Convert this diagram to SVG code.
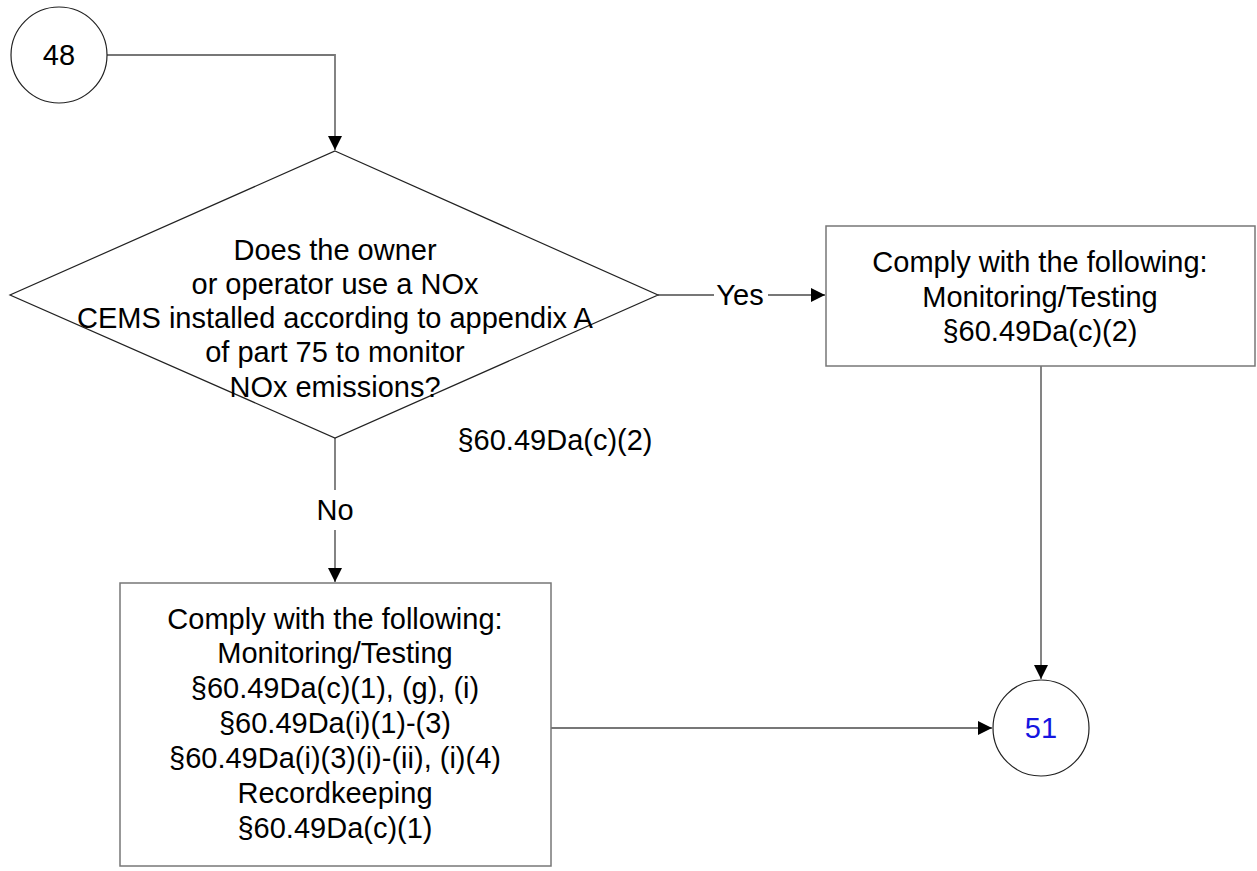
<svg xmlns="http://www.w3.org/2000/svg" width="1257" height="871" viewBox="0 0 1257 871">
<style>
text{font-family:"Liberation Sans",Arial,sans-serif;font-size:29px;fill:#000;text-anchor:middle}
.node{fill:#fff;stroke:#222;stroke-width:1.2}
.box{fill:#fff;stroke:#777;stroke-width:1.5}
.conn{fill:none;stroke:#777;stroke-width:1.8}
</style>
<defs>
<marker id="arr" viewBox="0 0 10 10" refX="10" refY="5" markerWidth="14" markerHeight="14" markerUnits="userSpaceOnUse" orient="auto">
<path d="M0,0L10,5L0,10z" fill="#000"/>
</marker>
</defs>
<rect width="1257" height="871" fill="#fff"/>
<g id="connectors">
<path class="conn" d="M107,55H335V150" marker-end="url(#arr)"/>
<path class="conn" d="M658,295H714M768,295H825" marker-end="url(#arr)"/>
<path class="conn" d="M335,438V490M335,530V582" marker-end="url(#arr)"/>
<path class="conn" d="M1041,366V679" marker-end="url(#arr)"/>
<path class="conn" d="M551,728H992" marker-end="url(#arr)"/>
<text x="740" y="305">Yes</text>
<text x="335" y="520">No</text>
</g>
<g id="n48">
<circle class="node" cx="59" cy="55" r="48"/>
<text x="59" y="65">48</text>
</g>
<g id="decision">
<path class="node" d="M335,151L658,295L335,438L10,295Z"/>
<text x="335" y="260">Does the owner</text>
<text x="335" y="294">or operator use a NOx</text>
<text x="335" y="328">CEMS installed according to appendix A</text>
<text x="335" y="362">of part 75 to monitor</text>
<text x="335" y="397">NOx emissions?</text>
</g>
<g id="citation">
<text x="555" y="450">§60.49Da(c)(2)</text>
</g>
<g id="yesbox">
<rect class="box" x="826" y="226" width="429" height="140"/>
<text x="1040" y="272">Comply with the following:</text>
<text x="1040" y="307">Monitoring/Testing</text>
<text x="1040" y="341">§60.49Da(c)(2)</text>
</g>
<g id="nobox">
<rect class="box" x="120" y="583" width="431" height="283"/>
<text x="335" y="629">Comply with the following:</text>
<text x="335" y="663">Monitoring/Testing</text>
<text x="335" y="698">§60.49Da(c)(1), (g), (i)</text>
<text x="335" y="733">§60.49Da(i)(1)-(3)</text>
<text x="335" y="768">§60.49Da(i)(3)(i)-(ii), (i)(4)</text>
<text x="335" y="803">Recordkeeping</text>
<text x="335" y="838">§60.49Da(c)(1)</text>
</g>
<g id="n51">
<circle class="node" cx="1041" cy="728" r="48"/>
<text x="1041" y="738" style="fill:#1515e0">51</text>
</g>
</svg>
